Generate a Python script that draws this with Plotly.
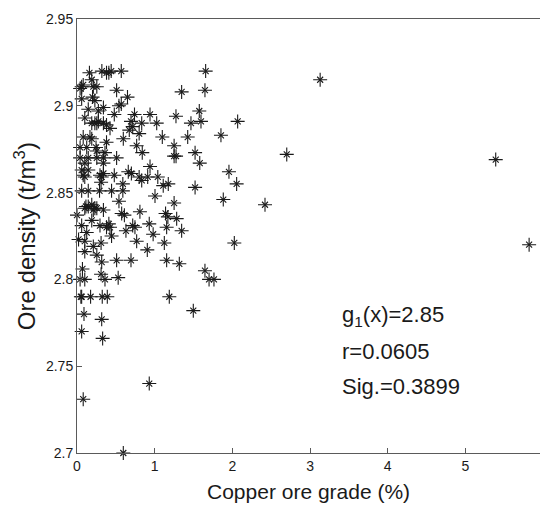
import plotly.graph_objects as go

# Copper ore grade (%) and ore density (t/m^3) for each sample
copper_grade = [
    0.16, 0.32, 0.38, 0.41, 0.44, 0.57, 1.656,
    0.19, 0.06, 0.08, 0.04, 0.21, 0.255, 0.51, 1.347, 1.647,
    0.06, 0.20, 0.23, 0.65, 0.57, 0.54,
    0.145, 0.34, 0.275, 1.574, 0.74, 0.94, 1.274, 0.48, 0.10,
    0.19, 0.23, 0.255, 0.275, 0.34, 0.38, 0.425,
    0.695, 0.717, 0.833, 1.026, 1.467, 1.596, 2.068,
    0.673, 0.80, 0.08, 0.167, 0.19, 0.596, 1.098, 1.425, 1.853,
    0.38, 0.768, 0.04, 0.125, 0.245, 0.255, 0.36, 0.84, 1.52, 1.25,
    1.25, 1.275, 0.04, 0.145, 0.255, 0.34, 0.51,
    0.10, 0.34, 1.58, 0.94, 0.06, 0.145, 0.66, 0.70, 1.956,
    0.08, 0.10, 0.296, 0.318, 0.34, 0.48, 0.80, 0.833, 0.91, 1.04,
    0.31, 2.055, 1.175, 1.11, 0.59, 1.52, 1.883,
    0.06, 0.145, 0.29, 0.445, 0.59, 1.004, 0.54,
    0.0, 0.06, 0.02, 0.115,
    0.10, 0.145, 0.19, 0.21, 0.23, 0.255,
    0.34, 0.575, 0.61, 0.81, 1.25, 1.14, 1.17, 1.283, 0.93,
    0.717, 0.746, 0.41, 0.425, 0.38, 0.296, 0.19, 0.125, 0.63,
    0.98, 1.154, 1.347, 0.445, 0.768, 0.905, 1.124, 2.025,
    0.10, 0.10, 0.21, 0.31, 0.255, 0.318, 0.51, 0.695, 1.154, 1.317,
    0.07, 0.31, 0.36, 0.53, 0.04, 0.10, 1.647, 1.70, 1.763,
    0.05, 0.06, 0.175, 0.325, 0.39, 1.188,
    0.09, 0.318, 0.06, 0.33, 1.497, 0.08, 0.93, 0.596,
    3.13, 2.70, 2.42, 5.39, 5.82,
]
ore_density = [
    2.919, 2.920, 2.919, 2.919, 2.920, 2.920, 2.920,
    2.915, 2.911, 2.912, 2.910, 2.911, 2.911, 2.909, 2.908, 2.909,
    2.904, 2.905, 2.903, 2.905, 2.901, 2.900,
    2.898, 2.899, 2.897, 2.897, 2.895, 2.895, 2.894, 2.895, 2.893,
    2.890, 2.890, 2.890, 2.891, 2.890, 2.889, 2.887,
    2.891, 2.888, 2.890, 2.890, 2.890, 2.891, 2.891,
    2.886, 2.884, 2.882, 2.882, 2.881, 2.881, 2.882, 2.882, 2.883,
    2.879, 2.877, 2.876, 2.876, 2.876, 2.874, 2.873, 2.873, 2.873, 2.877,
    2.871, 2.871, 2.870, 2.870, 2.870, 2.870, 2.870,
    2.867, 2.867, 2.867, 2.865, 2.863, 2.863, 2.862, 2.861, 2.862,
    2.860, 2.859, 2.860, 2.859, 2.861, 2.860, 2.859, 2.857, 2.859, 2.859,
    2.856, 2.855, 2.855, 2.854, 2.855, 2.853, 2.846,
    2.851, 2.851, 2.851, 2.851, 2.851, 2.848, 2.845,
    2.837, 2.831, 2.823, 2.842,
    2.841, 2.842, 2.843, 2.840, 2.841, 2.841,
    2.840, 2.838, 2.837, 2.839, 2.844, 2.838, 2.836, 2.835, 2.832,
    2.831, 2.830, 2.832, 2.830, 2.830, 2.831, 2.834, 2.827, 2.828,
    2.826, 2.830, 2.828, 2.825, 2.822, 2.817, 2.821, 2.821,
    2.816, 2.822, 2.819, 2.821, 2.814, 2.810, 2.811, 2.811, 2.811, 2.809,
    2.806, 2.803, 2.800, 2.801, 2.800, 2.800, 2.805, 2.800, 2.800,
    2.790, 2.790, 2.790, 2.790, 2.790, 2.790,
    2.780, 2.777, 2.770, 2.766, 2.782, 2.731, 2.740, 2.700,
    2.915, 2.872, 2.843, 2.869, 2.820,
]

x_ticks = [0, 1, 2, 3, 4, 5]
y_ticks = [2.7, 2.75, 2.8, 2.85, 2.9, 2.95]
y_tick_labels = ["2.7", "2.75", "2.8", "2.85", "2.9", "2.95"]

stats_lines = ["g<sub>1</sub>(x)=2.85", "r=0.0605", "Sig.=0.3899"]

FONT = "Liberation Sans, Arial, sans-serif"
INK = "#1a1a1a"
AXIS = "#5a5a5a"

fig = go.Figure()
# '*'-style markers: a tall plus with short diagonals
fig.add_trace(go.Scatter(
    x=copper_grade, y=ore_density, mode="markers",
    marker=dict(symbol="cross-thin-open", size=10, color=INK,
                line=dict(color=INK, width=1.1)),
    hoverinfo="skip", showlegend=False, cliponaxis=False,
))
fig.add_trace(go.Scatter(
    x=copper_grade, y=ore_density, mode="markers",
    marker=dict(symbol="x-thin-open", size=6, color=INK,
                line=dict(color=INK, width=1.1)),
    showlegend=False, cliponaxis=False,
))

fig.update_xaxes(
    range=[0, 5.96], tickvals=x_ticks, ticks="inside", ticklen=5,
    tickcolor=AXIS, showline=True, linecolor=AXIS, linewidth=1,
    mirror=True, showgrid=False, zeroline=False,
    tickfont=dict(family=FONT, size=14, color=INK),
)
fig.update_yaxes(
    range=[2.7, 2.95], tickvals=y_ticks, ticktext=y_tick_labels,
    ticks="inside", ticklen=5, tickcolor=AXIS, showline=True,
    linecolor=AXIS, linewidth=1, showgrid=False, zeroline=False,
    tickfont=dict(family=FONT, size=14, color=INK),
)

annotations = [
    dict(text="Copper ore grade (%)", xref="paper", yref="paper",
         x=0.5, y=-0.088, xanchor="center", yanchor="middle",
         showarrow=False, font=dict(family=FONT, size=21, color=INK)),
    dict(text="Ore density (t/m<sup>3</sup>)", xref="paper", yref="paper",
         x=-0.112, y=0.5, xanchor="center", yanchor="middle", textangle=-90,
         showarrow=False, font=dict(family=FONT, size=24, color=INK)),
]
for i, line in enumerate(stats_lines):
    annotations.append(dict(
        text=line, xref="paper", yref="paper",
        x=(340 - 77) / 463, y=(453 - (316 + 35 * i)) / 434,
        xanchor="left", yanchor="middle", showarrow=False,
        font=dict(family=FONT, size=22, color=INK),
    ))

fig.update_layout(
    width=540, height=505,
    margin=dict(l=77, r=0, t=19, b=52),
    paper_bgcolor="white", plot_bgcolor="white",
    annotations=annotations,
)

fig.write_html("out.html")
